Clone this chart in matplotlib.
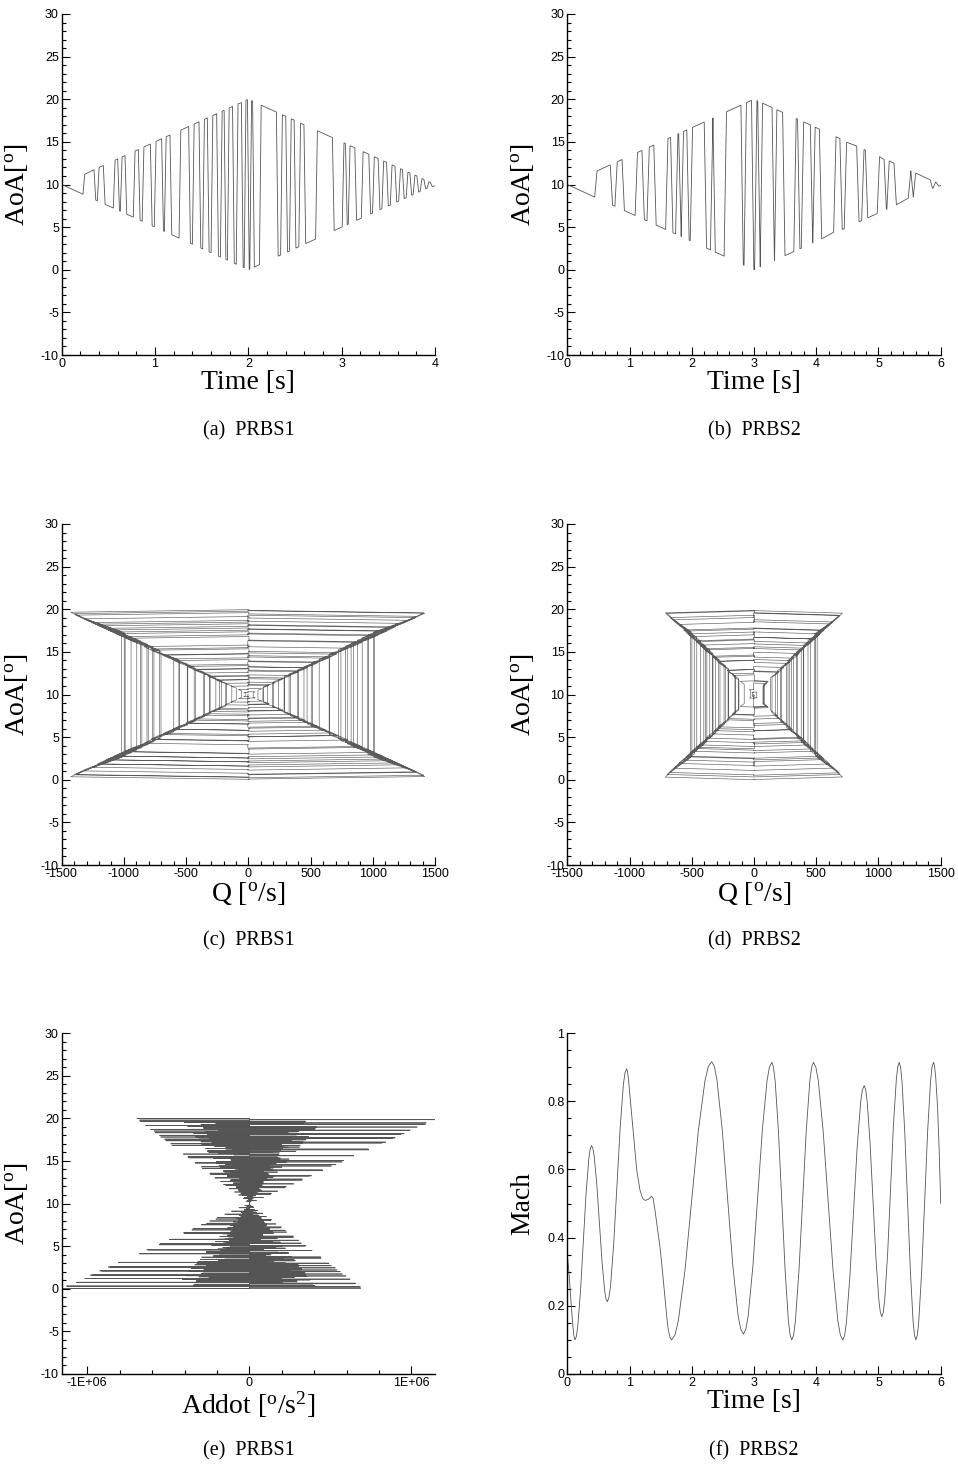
import numpy as np
import matplotlib.pyplot as plt
from matplotlib.ticker import MultipleLocator, FixedLocator, FuncFormatter

plt.rcParams['font.family'] = ['Liberation Sans', 'DejaVu Sans']
plt.rcParams['mathtext.fontset'] = 'custom'
plt.rcParams['mathtext.rm'] = 'Liberation Serif'
plt.rcParams['mathtext.it'] = 'Liberation Serif:italic'
plt.rcParams['mathtext.default'] = 'rm'
plt.rcParams['axes.unicode_minus'] = False

LINE_COLOR = '#555555'
SERIF = 'Liberation Serif'

# PRBS1: start of each AoA step [s], AoA just before and just after it [deg]
prbs1_t = [0.228, 0.346, 0.382, 0.446, 0.553, 0.600, 0.628, 0.678, 0.767, 0.821,
           0.862, 0.950, 0.992, 1.071, 1.100, 1.160, 1.257, 1.360, 1.400, 1.471,
           1.510, 1.560, 1.600, 1.660, 1.700, 1.740, 1.775, 1.830, 1.870, 1.925,
           1.955, 1.990, 2.015, 2.045, 2.118, 2.300, 2.345, 2.400, 2.440, 2.490,
           2.540, 2.595, 2.720, 2.900, 3.005, 3.040, 3.070, 3.140, 3.210, 3.290,
           3.330, 3.390, 3.430, 3.480, 3.520, 3.570, 3.610, 3.650, 3.690, 3.730,
           3.765, 3.805, 3.840, 3.880, 3.915, 3.950]
prbs1_from = [8.86, 11.73, 8.09, 12.23, 7.24, 13.0, 6.86, 13.39, 6.17, 14.1,
              5.69, 14.75, 5.04, 15.36, 4.5, 15.8, 3.72, 16.8, 3.0, 17.36,
              2.45, 17.8, 2.0, 18.3, 1.5, 18.7, 1.13, 19.15, 0.65, 19.6,
              0.23, 19.95, 0.08, 19.78, 0.59, 18.5, 1.73, 18.0, 2.2, 17.55,
              2.7, 17.0, 3.6, 15.5, 5.03, 14.8, 5.35, 14.3, 6.05, 13.55,
              6.65, 13.05, 7.15, 12.6, 7.6, 12.15, 8.05, 11.75, 8.45, 11.35,
              8.83, 11.0, 9.2, 10.6, 9.58, 10.25]
prbs1_to = [11.2, 8.18, 12.0, 7.68, 12.86, 6.9, 13.24, 6.52, 13.93, 5.8,
            14.4, 5.16, 15.06, 4.55, 15.6, 4.1, 16.38, 3.1, 17.1, 2.55,
            17.65, 2.1, 18.1, 1.6, 18.6, 1.2, 18.97, 0.76, 19.45, 0.28,
            19.87, 0.05, 19.83, 0.32, 19.3, 1.6, 18.18, 2.1, 17.7, 2.55,
            17.2, 3.07, 16.3, 4.6, 14.88, 5.3, 14.55, 5.8, 13.85, 6.55,
            13.25, 7.05, 12.75, 7.5, 12.3, 7.95, 11.85, 8.35, 11.45, 8.75,
            11.1, 9.1, 10.7, 9.5, 10.33, 9.75]
prbs1_start = (0.0, 10.0)
prbs1_end = (4.0, 9.85)
prbs1_dur = 0.019      # duration of one step [s]

# PRBS2
prbs2_t = [0.440, 0.690, 0.765, 0.880, 1.090, 1.200, 1.280, 1.390, 1.580, 1.660,
           1.740, 1.790, 1.830, 1.920, 1.975, 2.200, 2.300, 2.340, 2.520, 2.790,
           2.840, 2.960, 3.010, 3.060, 3.100, 3.290, 3.330, 3.460, 3.640, 3.700,
           3.760, 3.905, 3.945, 4.050, 4.280, 4.380, 4.450, 4.650, 4.730, 4.790,
           4.980, 5.090, 5.135, 5.250, 5.480, 5.520, 5.560, 5.830, 5.880, 5.930]
prbs2_from = [8.53, 12.3, 7.45, 12.93, 6.37, 14.0, 5.73, 14.63, 4.73, 15.53,
              4.2, 15.97, 3.9, 16.4, 3.42, 17.33, 2.33, 17.8, 1.6, 19.3,
              0.53, 19.87, 0.03, 19.8, 0.33, 19.03, 1.1, 18.47, 2.13, 17.67,
              2.53, 17.0, 3.15, 16.5, 4.4, 15.4, 4.83, 14.5, 5.77, 14.03,
              6.6, 12.93, 7.12, 12.5, 8.4, 11.6, 8.53, 10.57, 9.6, 10.23]
prbs2_to = [11.59, 7.57, 12.68, 6.94, 13.76, 5.87, 14.39, 5.24, 15.39, 4.34,
            15.93, 3.91, 16.23, 3.47, 16.71, 2.54, 17.79, 2.07, 18.53, 0.57,
            19.59, 0.01, 19.84, 0.33, 19.54, 1.09, 18.77, 1.66, 17.74, 2.46,
            17.34, 3.14, 16.72, 3.63, 15.6, 4.73, 14.96, 5.63, 14.1, 6.09,
            13.27, 7.09, 12.76, 7.63, 11.6, 8.53, 11.34, 9.56, 10.3, 9.8]
prbs2_start = (0.0, 10.0)
prbs2_end = (6.0, 9.9)
prbs2_dur = 0.038

# shape of one step: fraction of the step covered vs. pitch rate (1 = mid-step rate)
step_frac = [0.0, 0.015, 0.05, 0.13, 0.87, 0.95, 0.985, 1.0]
step_rate = [0.0, 1.40, 1.30, 1.0, 1.0, 1.30, 1.40, 0.0]

# alpha-double-dot peaks along one step, per degree of step size
addot_frac = [0.0, 0.015, 0.03, 0.05, 0.08, 0.13, 0.87, 0.92, 0.95, 0.97, 0.985, 1.0]
addot_coef = [0.60, -0.30, 0.18, -0.36, 0.12, -0.20, 0.15, -0.30, 0.22, -0.26, -0.35, 1.0]
addot_scale = 5.8e4

# PRBS2 Mach number history
mach_t = [0.0, 0.03, 0.06, 0.09, 0.105, 0.123,
          0.145, 0.167, 0.212, 0.257, 0.301, 0.346, 0.368, 0.39,
          0.411, 0.432, 0.474, 0.517, 0.559, 0.601, 0.622, 0.643,
          0.669, 0.695, 0.746, 0.798, 0.850, 0.901, 0.927, 0.953,
          0.965, 0.98, 1.034, 1.075, 1.116, 1.168, 1.21, 1.25,
          1.30, 1.355, 1.38, 1.409, 1.45, 1.489, 1.53, 1.569, 1.60, 1.623, 1.65, 1.676,
          1.730, 1.783, 1.891, 1.998, 2.105, 2.213, 2.266, 2.32,
          2.363, 2.405, 2.490, 2.575, 2.660, 2.745, 2.788, 2.83,
          2.868, 2.906, 2.982, 3.058, 3.134, 3.210, 3.248, 3.286,
          3.313, 3.340, 3.393, 3.447, 3.500, 3.553, 3.580, 3.607,
          3.636, 3.665, 3.723, 3.781, 3.839, 3.897, 3.926, 3.955,
          3.994, 4.034, 4.112, 4.191, 4.270, 4.348, 4.388, 4.427,
          4.456, 4.484, 4.541, 4.599, 4.656, 4.713, 4.741, 4.770,
          4.794, 4.818, 4.865, 4.913, 4.960, 5.008, 5.031, 5.055,
          5.078, 5.101, 5.148, 5.194, 5.240, 5.287, 5.310, 5.333,
          5.355, 5.378, 5.422, 5.467, 5.512, 5.556, 5.579, 5.601,
          5.625, 5.648, 5.695, 5.743, 5.790, 5.837, 5.860, 5.884,
          5.90, 5.92, 5.95, 5.975, 6.0]
mach = [0.35, 0.29, 0.21, 0.14, 0.113, 0.100,
        0.110, 0.138, 0.243, 0.385, 0.528, 0.632, 0.660, 0.670,
        0.662, 0.639, 0.556, 0.441, 0.327, 0.243, 0.220, 0.212,
        0.224, 0.258, 0.383, 0.554, 0.724, 0.849, 0.883, 0.895,
        0.889, 0.870, 0.763, 0.680, 0.597, 0.539, 0.515, 0.509,
        0.512, 0.521, 0.515, 0.480, 0.425, 0.373, 0.300, 0.226, 0.165, 0.129, 0.107, 0.100,
        0.114, 0.155, 0.304, 0.508, 0.712, 0.861, 0.902, 0.916,
        0.902, 0.862, 0.716, 0.517, 0.317, 0.170, 0.131, 0.117,
        0.131, 0.170, 0.316, 0.516, 0.715, 0.861, 0.900, 0.914,
        0.900, 0.859, 0.711, 0.507, 0.304, 0.155, 0.114, 0.100,
        0.114, 0.155, 0.304, 0.507, 0.711, 0.859, 0.900, 0.914,
        0.900, 0.859, 0.711, 0.507, 0.304, 0.155, 0.114, 0.100,
        0.113, 0.150, 0.287, 0.473, 0.660, 0.796, 0.833, 0.846,
        0.834, 0.801, 0.677, 0.507, 0.338, 0.213, 0.180, 0.168,
        0.181, 0.218, 0.355, 0.541, 0.728, 0.864, 0.901, 0.914,
        0.900, 0.859, 0.711, 0.507, 0.304, 0.155, 0.114, 0.100,
        0.114, 0.155, 0.304, 0.507, 0.711, 0.859, 0.900, 0.914,
        0.905, 0.870, 0.780, 0.660, 0.500]


def build_history(start, end, sw_t, sw_from, sw_to, dur):
    # time history of AoA plus the matching (Q, AoA) path
    frac = np.array(step_frac)
    rate = np.array(step_rate)
    seg = np.diff(frac) / (0.5 * (rate[1:] + rate[:-1]))
    k = seg.sum() / dur
    t_rel = np.concatenate([[0.0], np.cumsum(seg)]) / k

    t_hist, a_hist = [start[0]], [start[1]]
    q_path, a_path = [0.0], [start[1]]
    for ts, af, at in zip(sw_t, sw_from, sw_to):
        # slow drift between steps
        slope = (af - a_hist[-1]) / (ts - t_hist[-1])
        q_path += [slope, slope, 0.0]
        a_path += [a_hist[-1], af, af]
        step = at - af
        t_hist += list(ts + t_rel)
        a_hist += list(af + frac * step)
        q_path += list(rate * k * step)
        a_path += list(af + frac * step)
    slope = (end[1] - a_hist[-1]) / (end[0] - t_hist[-1])
    q_path += [slope, slope]
    a_path += [a_hist[-1], end[1]]
    t_hist.append(end[0])
    a_hist.append(end[1])
    return np.array(t_hist), np.array(a_hist), np.array(q_path), np.array(a_path)


def build_addot(start, sw_from, sw_to):
    # spikes of alpha-double-dot along every step
    x, y = [0.0], [start[1]]
    for af, at in zip(sw_from, sw_to):
        step = at - af
        for p, c in zip(addot_frac, addot_coef):
            a = af + p * step
            x += [0.0, c * addot_scale * step, 0.0]
            y += [a, a, a]
    return np.array(x), np.array(y)


def style_axes(ax, xlim, ylim, xmaj, xmin, ymaj, ymin):
    ax.set_xlim(*xlim)
    ax.set_ylim(*ylim)
    for side in ('top', 'right'):
        ax.spines[side].set_visible(False)
    for side in ('left', 'bottom'):
        ax.spines[side].set_linewidth(1.0)
    ax.xaxis.set_major_locator(MultipleLocator(xmaj))
    ax.xaxis.set_minor_locator(MultipleLocator(xmin))
    ax.yaxis.set_major_locator(MultipleLocator(ymaj))
    ax.yaxis.set_minor_locator(MultipleLocator(ymin))
    fmt = FuncFormatter(lambda v, pos: '%g' % v)
    ax.xaxis.set_major_formatter(fmt)
    ax.yaxis.set_major_formatter(fmt)
    ax.tick_params(which='both', direction='in', top=False, right=False,
                   labelsize=9, pad=2, width=0.8, colors='black')
    ax.tick_params(which='major', length=6)
    ax.tick_params(which='minor', length=3)


def set_labels(ax, xlabel, ylabel):
    ax.set_xlabel(xlabel, fontfamily=SERIF, fontsize=20)
    ax.set_ylabel(ylabel, fontfamily=SERIF, fontsize=20)
    ax.xaxis.set_label_coords(0.5, -0.045)
    ax.yaxis.set_label_coords(-0.085, 0.5)


def main():
    fig = plt.figure(figsize=(9.58, 14.65), dpi=100)
    W, H = 373.4 / 958, 341 / 1465
    lefts = [61.7 / 958, 567.3 / 958]
    bottoms = [1 - 355 / 1465, 1 - 865 / 1465, 1 - 1374 / 1465]
    cap_y = [1 - 431 / 1465, 1 - 941 / 1465, 1 - 1451 / 1465]

    t1, a1, q1, qa1 = build_history(prbs1_start, prbs1_end, prbs1_t,
                                    prbs1_from, prbs1_to, prbs1_dur)
    t2, a2, q2, qa2 = build_history(prbs2_start, prbs2_end, prbs2_t,
                                    prbs2_from, prbs2_to, prbs2_dur)
    ad_x, ad_y = build_addot(prbs1_start, prbs1_from, prbs1_to)

    aoa_label = r'AoA[$^{\mathrm{o}}$]'
    line = dict(color=LINE_COLOR, lw=0.6)
    thin = dict(color='#5c5c5c', lw=0.45)

    # (a), (b) AoA time histories
    ax = fig.add_axes([lefts[0], bottoms[0], W, H])
    ax.plot(t1, a1, **line)
    style_axes(ax, (0, 4), (-10, 30), 1, 0.2, 5, 1)
    set_labels(ax, 'Time [s]', aoa_label)

    ax = fig.add_axes([lefts[1], bottoms[0], W, H])
    ax.plot(t2, a2, **line)
    style_axes(ax, (0, 6), (-10, 30), 1, 0.2, 5, 1)
    set_labels(ax, 'Time [s]', aoa_label)

    # (c), (d) pitch rate against AoA
    ax = fig.add_axes([lefts[0], bottoms[1], W, H])
    ax.plot(q1, qa1, **thin)
    style_axes(ax, (-1500, 1500), (-10, 30), 500, 100, 5, 1)
    set_labels(ax, r'Q [$^{\mathrm{o}}$/s]', aoa_label)

    ax = fig.add_axes([lefts[1], bottoms[1], W, H])
    ax.plot(q2, qa2, **thin)
    style_axes(ax, (-1500, 1500), (-10, 30), 500, 100, 5, 1)
    set_labels(ax, r'Q [$^{\mathrm{o}}$/s]', aoa_label)

    # (e) alpha-double-dot against AoA
    ax = fig.add_axes([lefts[0], bottoms[2], W, H])
    ax.plot(ad_x, ad_y, color=LINE_COLOR, lw=0.5)
    style_axes(ax, (-1.158e6, 1.146e6), (-10, 30), 1e6, 2e5, 5, 1)
    ax.xaxis.set_major_locator(FixedLocator([-1e6, 0, 1e6]))
    ax.xaxis.set_major_formatter(FuncFormatter(
        lambda v, pos: '0' if v == 0 else '%.0E' % v))
    set_labels(ax, r'Addot [$^{\mathrm{o}}$/s$^{\mathrm{2}}$]', aoa_label)

    # (f) Mach number
    ax = fig.add_axes([lefts[1], bottoms[2], W, H])
    ax.plot(mach_t, mach, **line)
    style_axes(ax, (0, 6), (0, 1), 1, 0.2, 0.2, 0.05)
    set_labels(ax, 'Time [s]', 'Mach')

    captions = ['(a)  PRBS1', '(b)  PRBS2', '(c)  PRBS1',
                '(d)  PRBS2', '(e)  PRBS1', '(f)  PRBS2']
    for i, text in enumerate(captions):
        x = lefts[i % 2] + W / 2
        fig.text(x, cap_y[i // 2], text, ha='center', va='center',
                 fontfamily=SERIF, fontsize=14.5)

    fig.savefig('out.png', dpi=100)


if __name__ == "__main__":
    main()
